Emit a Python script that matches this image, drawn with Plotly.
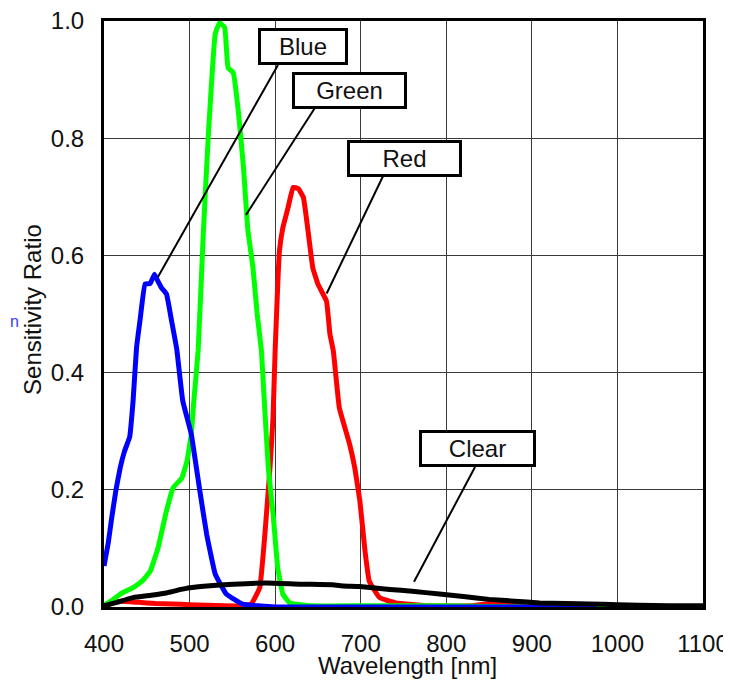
import plotly.graph_objects as go

# ---------------- data ----------------
blue_x = [400, 405, 409, 414, 419, 424, 430, 434, 438, 442, 448, 454, 459, 463, 467, 473, 479, 485, 492, 502, 512, 520, 530, 543, 562, 600, 700, 800, 900, 975]
blue_y = [0.07, 0.11, 0.152, 0.2, 0.238, 0.266, 0.29, 0.352, 0.442, 0.488, 0.551, 0.552, 0.568, 0.556, 0.545, 0.534, 0.488, 0.44, 0.352, 0.295, 0.198, 0.124, 0.056, 0.022, 0.005, 0.0, 0.0, 0.0, 0.0, 0.0]

green_x = [400, 410, 419, 434, 445, 454, 463, 473, 481, 491, 497, 502, 505, 510, 516, 522, 530, 535, 541, 545, 551, 557, 563, 568, 574, 579, 584, 587, 592, 598, 603, 609, 617, 640, 700, 800, 900, 1000]
green_y = [0.003, 0.012, 0.022, 0.033, 0.045, 0.061, 0.1, 0.164, 0.204, 0.22, 0.249, 0.295, 0.352, 0.437, 0.636, 0.807, 0.978, 0.997, 0.989, 0.92, 0.912, 0.846, 0.75, 0.645, 0.58, 0.5, 0.437, 0.36, 0.238, 0.152, 0.067, 0.022, 0.007, 0.002, 0.002, 0.002, 0.0, 0.0]

red_x = [400, 410, 420, 440, 460, 480, 500, 520, 540, 560, 572, 582, 588, 594, 597.5, 600, 605, 609, 615, 621, 627, 633, 638, 644, 650, 660, 664, 668, 675, 687, 693, 699, 705, 710, 722, 741, 780, 830, 850, 870, 890, 950, 1000]
red_y = [0.0, 0.008, 0.01, 0.008, 0.006, 0.005, 0.004, 0.003, 0.002, 0.002, 0.005, 0.033, 0.124, 0.238, 0.323, 0.437, 0.607, 0.647, 0.681, 0.716, 0.714, 0.699, 0.647, 0.579, 0.551, 0.522, 0.466, 0.437, 0.34, 0.278, 0.238, 0.181, 0.096, 0.044, 0.016, 0.007, 0.002, 0.002, 0.006, 0.006, 0.002, 0.0, 0.0]

clear_x = [400, 415, 434, 455, 473, 490, 500, 520, 551, 590, 629, 667, 680, 699, 734, 760, 792, 820, 850, 880, 909, 940, 967, 1000, 1025, 1060, 1100]
clear_y = [0.002, 0.008, 0.016, 0.02, 0.024, 0.03, 0.033, 0.036, 0.039, 0.041, 0.039, 0.038, 0.036, 0.035, 0.03, 0.027, 0.022, 0.018, 0.013, 0.01, 0.007, 0.006, 0.005, 0.004, 0.003, 0.002, 0.002]

x_ticks = [400, 500, 600, 700, 800, 900, 1000, 1100]
y_ticks = [0.0, 0.2, 0.4, 0.6, 0.8, 1.0]
y_tick_labels = ["0.0", "0.2", "0.4", "0.6", "0.8", "1.0"]

label_text = ["Blue", "Green", "Red", "Clear"]
label_x = [632.9, 686.5, 751.2, 836.7]
label_y = [0.956, 0.882, 0.766, 0.270]
label_w = [82, 107, 107, 109]
leader_x0 = [603.3, 646.6, 726.0, 833.6]
leader_y0 = [0.925, 0.852, 0.735, 0.239]
leader_x1 = [463.0, 565.9, 660.2, 762.3]
leader_y1 = [0.563, 0.669, 0.535, 0.043]

FONT = "Liberation Sans, Arial, sans-serif"
TXT = "#111111"

fig = go.Figure()
series = [
    ("Red", red_x, red_y, "#ff0000"),
    ("Green", green_x, green_y, "#00ff00"),
    ("Blue", blue_x, blue_y, "#0000ff"),
    ("Clear", clear_x, clear_y, "#000000"),
]
for name, xs, ys, col in series:
    fig.add_trace(go.Scatter(x=xs, y=ys, mode="lines", name=name,
                             line=dict(color=col, width=5, shape="spline", smoothing=0.3)))

for i in range(len(label_text)):
    fig.add_shape(type="line", xref="x", yref="y",
                  x0=leader_x0[i], y0=leader_y0[i], x1=leader_x1[i], y1=leader_y1[i],
                  line=dict(color="black", width=2))
    fig.add_annotation(x=label_x[i], y=label_y[i], xref="x", yref="y",
                       text=label_text[i], showarrow=False,
                       font=dict(family=FONT, size=24, color=TXT),
                       bgcolor="white", bordercolor="black", borderwidth=3,
                       borderpad=1, width=label_w[i], height=29,
                       xanchor="center", yanchor="middle")

# axis titles
fig.add_annotation(x=0.5075, y=-0.099, xref="paper", yref="paper", text="Wavelength [nm]",
                   showarrow=False, font=dict(family=FONT, size=24, color=TXT),
                   xanchor="center", yanchor="middle")
fig.add_annotation(x=-0.1185, y=0.507, xref="paper", yref="paper", text="Sensitivity Ratio",
                   showarrow=False, textangle=-90, font=dict(family=FONT, size=24, color=TXT),
                   xanchor="center", yanchor="middle")

# stray blue glyph at left edge
fig.add_annotation(x=-0.16, y=0.487, xref="paper", yref="paper", text="n",
                   showarrow=False, font=dict(family=FONT, size=16, color="#3a3aff"),
                   xanchor="left", yanchor="middle")

# page body has an 8px default margin: compensate so plot area lands at x 104-703, y 21-607
fig.update_layout(
    width=723, height=680,
    margin=dict(l=96, r=28, t=13, b=81, autoexpand=False),
    paper_bgcolor="white", plot_bgcolor="white",
    showlegend=False,
    font=dict(family=FONT, size=24, color=TXT),
)
fig.update_xaxes(
    range=[400, 1100], tickvals=x_ticks, ticks="", automargin=False,
    showgrid=True, gridcolor="#3a3a3a", gridwidth=1,
    showline=True, linecolor="black", linewidth=3, mirror=True,
    zeroline=False, ticklabelstandoff=13, ticklabeloverflow="allow",
    tickfont=dict(family=FONT, size=24, color=TXT),
)
fig.update_yaxes(
    range=[0, 1], tickvals=y_ticks, ticktext=y_tick_labels, ticks="", automargin=False,
    showgrid=True, gridcolor="#3a3a3a", gridwidth=1,
    showline=True, linecolor="black", linewidth=3, mirror=True,
    zeroline=False, ticklabelstandoff=12, ticklabeloverflow="allow",
    tickfont=dict(family=FONT, size=24, color=TXT),
)

fig.write_html("out.html")
